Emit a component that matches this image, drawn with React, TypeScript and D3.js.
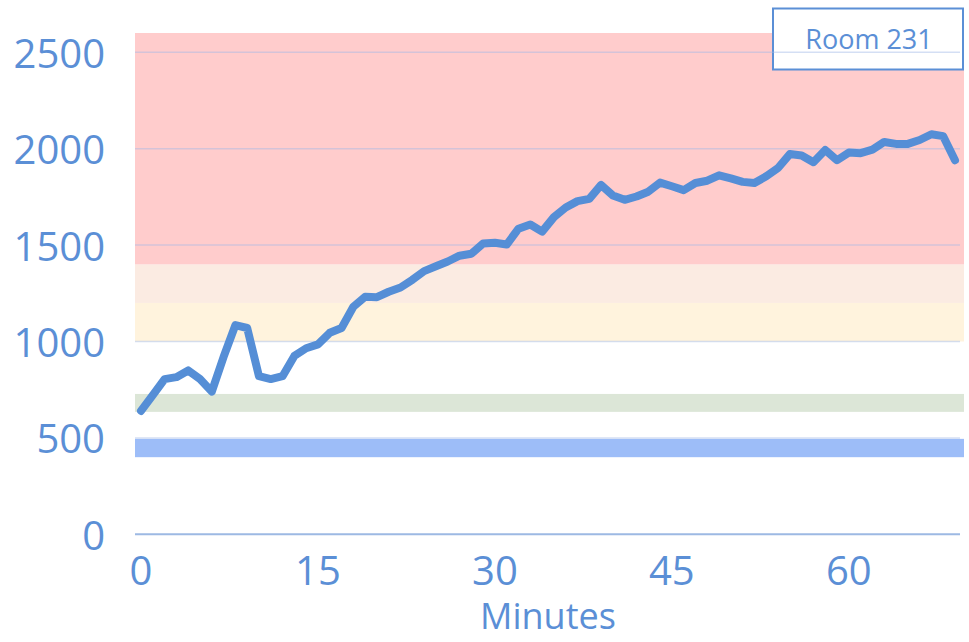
import React from "react";
import * as d3 from "d3";

const minutes = [
  0, 1, 2, 3, 4, 5, 6, 7, 8, 9, 10, 11, 12, 13, 14, 15, 16, 17, 18, 19,
  20, 21, 22, 23, 24, 25, 26, 27, 28, 29, 30, 31, 32, 33, 34, 35, 36, 37, 38, 39,
  40, 41, 42, 43, 44, 45, 46, 47, 48, 49, 50, 51, 52, 53, 54, 55, 56, 57, 58, 59,
  60, 61, 62, 63, 64, 65, 66, 67, 68, 69,
];

const co2 = [
  640, 722, 805, 815, 850, 805, 740, 920, 1085, 1070, 820, 805, 820, 925, 965, 985, 1045, 1070, 1180, 1232,
  1230, 1258, 1280, 1320, 1365, 1390, 1415, 1445, 1455, 1508, 1512, 1503, 1585, 1607, 1570, 1645, 1695, 1728, 1740, 1812,
  1757, 1735, 1752, 1777, 1824, 1805, 1785, 1822, 1834, 1862, 1846, 1828, 1822, 1857, 1900, 1972, 1965, 1930, 1993, 1940,
  1980, 1977, 1995, 2035, 2025, 2025, 2045, 2075, 2065, 1940,
];

const yTicks = [0, 500, 1000, 1500, 2000, 2500];
const xTicks = [0, 15, 30, 45, 60];

const bandLows = [400, 635, 1000, 1200, 1400];
const bandHighs = [495, 728, 1200, 1400, 2600];
const bandColors = ["#9dbdf8", "#dce6d7", "#fff3dd", "#fbebe2", "#ffcccc"];

const seriesName = "Room 231";
const xTitle = "Minutes";

const W = 969;
const H = 642;
const plotLeft = 135;
const plotRight = 964;
const textColor = "#5b8fd6";
const lineColor = "#558ed6";
const font = "'Open Sans', 'Noto Sans', sans-serif";

export default function App() {
  const x = d3.scaleLinear().domain([0, 69]).range([141, 955]);
  const y = d3.scaleLinear().domain([0, 2500]).range([534.3, 52.3]);

  const line = d3
    .line<number>()
    .x((_, i) => x(minutes[i]))
    .y((d) => y(d));

  return (
    <svg
      width={W}
      height={H}
      style={{ position: "absolute", left: 0, top: 0, background: "#fff" }}
      fontFamily={font}
    >
      {bandLows.map((lo, i) => (
        <rect
          key={"b" + i}
          x={plotLeft}
          width={plotRight - plotLeft}
          y={y(bandHighs[i])}
          height={y(lo) - y(bandHighs[i])}
          fill={bandColors[i]}
        />
      ))}
      <rect x={773} y={8.5} width={190} height={61} fill="#fff" stroke={textColor} strokeWidth={2} />
      {yTicks.slice(1).map((t) => (
        <line
          key={"g" + t}
          x1={plotLeft}
          x2={960}
          y1={y(t)}
          y2={y(t)}
          stroke="#9fb8e6"
          strokeOpacity={0.45}
          strokeWidth={1.5}
        />
      ))}
      <line x1={plotLeft} x2={960} y1={y(0)} y2={y(0)} stroke="#9db9e3" strokeWidth={2} />
      {yTicks.map((t) => (
        <text
          key={"yt" + t}
          x={105}
          y={y(t)}
          textAnchor="end"
          dominantBaseline="central"
          fontSize={40}
          fill={textColor}
        >
          {t}
        </text>
      ))}
      {xTicks.map((t) => (
        <text
          key={"xt" + t}
          x={x(t)}
          y={569}
          textAnchor="middle"
          dominantBaseline="central"
          fontSize={40}
          fill={textColor}
        >
          {t}
        </text>
      ))}
      <text x={548} y={615} textAnchor="middle" dominantBaseline="central" fontSize={36} fill={textColor}>
        {xTitle}
      </text>
      <path
        d={line(co2) || ""}
        fill="none"
        stroke={lineColor}
        strokeWidth={8}
        strokeLinejoin="round"
        strokeLinecap="round"
      />
      <text x={869} y={38} textAnchor="middle" dominantBaseline="central" fontSize={27} fill={textColor}>
        {seriesName}
      </text>
    </svg>
  );
}
